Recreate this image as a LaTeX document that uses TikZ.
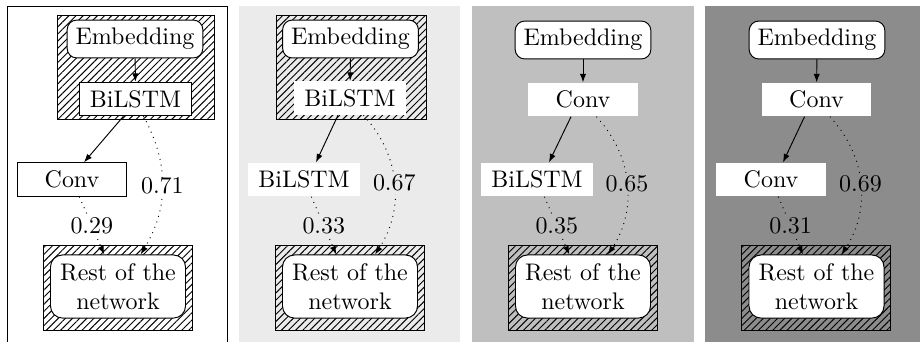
\documentclass[tikz,border=0pt]{standalone}
\usetikzlibrary{arrows.meta, patterns.meta}
\tikzset{
    embbox/.style={rectangle, rounded corners=4pt, draw, fill=white, inner xsep=3.5pt, minimum height=15.8pt},
    layerbox/.style={rectangle, fill=white, inner xsep=4.5pt, minimum width=45.5pt, minimum height=13.8pt},
    restbox/.style={rectangle, rounded corners=5pt, draw, fill=white, align=center, minimum width=56.3pt, minimum height=26.3pt, inner sep=1pt},
    frozen/.style={draw, pattern={Lines[angle=45, distance=2.1pt, line width=0.4pt]}},
    arrow/.style={-{Latex[length=3.5pt, width=2.6pt]}},
    prob/.style={-{Latex[length=3.5pt, width=2.6pt]}, dotted},
    problabel/.style={inner sep=1pt}
}

\begin{document}
\begin{tikzpicture}[x=0.417pt, y=-0.417pt]
    \useasboundingbox (0,0) rectangle (920,341);
    % panel backgrounds
    \draw[fill=white] (7,6) rectangle (227,350);
    \fill[black!8] (239,6) rectangle (460,350);
    \fill[black!25] (472,6) rectangle (694,350);
    \fill[black!45] (705,6) rectangle (927,350);

    % panel 1
    \begin{scope}[shift={(7,0)}, problabel/.append style={fill=white}]
        \draw[frozen] (50,15) rectangle (207,119);
        \draw[frozen] (36.5,245) rectangle (185.5,330);
        \node[embbox] (emb1) at (128,39) {Embedding};
        \node[layerbox, draw] (upper1) at (128.5,99) {BiLSTM};
        \node[layerbox, draw] (lower1) at (65,179.5) {Conv};
        \node[restbox] (rest1) at (111,286.5) {Rest of the\\network};
        \draw[arrow] (emb1) -- (upper1);
        \draw[arrow] ([xshift=-5pt]upper1.south) -- ([xshift=5pt]lower1.north);
        \draw[prob] (lower1) -- node[problabel] {0.29} (rest1);
        \draw[prob] (upper1) to[bend left=30] node[problabel] {0.71} (rest1);
    \end{scope}

    % panel 2
    \begin{scope}[shift={(239,0)}, problabel/.append style={fill=black!8}]
        \draw[frozen] (37,15) rectangle (187,119);
        \draw[frozen] (36.5,245) rectangle (185.5,330);
        \node[embbox] (emb2) at (111.5,39) {Embedding};
        \node[layerbox] (upper2) at (111,98) {BiLSTM};
        \node[layerbox] (lower2) at (65,179.5) {BiLSTM};
        \node[restbox] (rest2) at (111,286.5) {Rest of the\\network};
        \draw[arrow] (emb2) -- (upper2);
        \draw[arrow] ([xshift=-5pt]upper2.south) -- ([xshift=5pt]lower2.north);
        \draw[prob] (lower2) -- node[problabel] {0.33} (rest2);
        \draw[prob] (upper2) to[bend left=38] node[problabel] {0.67} (rest2);
    \end{scope}

    % panel 3
    \begin{scope}[shift={(472,0)}, problabel/.append style={fill=black!25}]
        \draw[frozen] (36.5,245) rectangle (185.5,330);
        \node[embbox] (emb3) at (111,40) {Embedding};
        \node[layerbox] (upper3) at (111,99.5) {Conv};
        \node[layerbox] (lower3) at (65,179.5) {BiLSTM};
        \node[restbox] (rest3) at (111,286.5) {Rest of the\\network};
        \draw[arrow] (emb3) -- (upper3);
        \draw[arrow] ([xshift=-5pt]upper3.south) -- ([xshift=5pt]lower3.north);
        \draw[prob] (lower3) -- node[problabel] {0.35} (rest3);
        \draw[prob] (upper3) to[bend left=38] node[problabel] {0.65} (rest3);
    \end{scope}

    % panel 4
    \begin{scope}[shift={(705,0)}, problabel/.append style={fill=black!45}]
        \draw[frozen] (36.5,245) rectangle (185.5,330);
        \node[embbox] (emb4) at (112,40) {Embedding};
        \node[layerbox] (upper4) at (111.5,99.5) {Conv};
        \node[layerbox] (lower4) at (66,179.5) {Conv};
        \node[restbox] (rest4) at (111.5,286.5) {Rest of the\\network};
        \draw[arrow] (emb4) -- (upper4);
        \draw[arrow] ([xshift=-5pt]upper4.south) -- ([xshift=5pt]lower4.north);
        \draw[prob] (lower4) -- node[problabel] {0.31} (rest4);
        \draw[prob] (upper4) to[bend left=38] node[problabel] {0.69} (rest4);
    \end{scope}
\end{tikzpicture}
\end{document}
